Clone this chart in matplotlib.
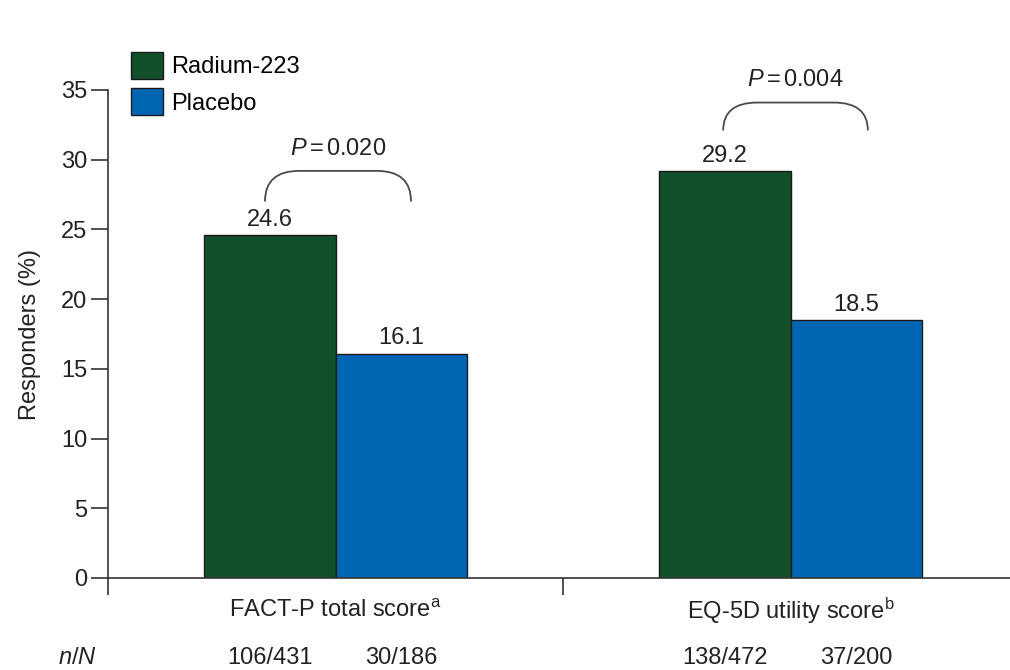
import matplotlib
matplotlib.use("Agg")
import matplotlib.pyplot as plt
from matplotlib.path import Path
from matplotlib.patches import PathPatch
import numpy as np

plt.rcParams['font.family'] = ['Liberation Sans', 'DejaVu Sans']
plt.rcParams['mathtext.fontset'] = 'custom'
plt.rcParams['mathtext.rm'] = 'Liberation Sans'
plt.rcParams['mathtext.it'] = 'Liberation Sans:italic'
plt.rcParams['mathtext.bf'] = 'Liberation Sans:bold'

categories = ["FACT-P total score$^{\\rm a}$", "EQ-5D utility score$^{\\rm b}$"]
series_names = ["Radium-223", "Placebo"]
radium = [24.6, 29.2]
placebo = [16.1, 18.5]
radium_nN = ["106/431", "138/472"]
placebo_nN = ["30/186", "37/200"]
p_values = ["0.020", "0.004"]
yticks = [0, 5, 10, 15, 20, 25, 30, 35]

green = "#11502a"
blue = "#0066b3"
txt = "#222222"
axc = "#333333"
fs = 17

fig = plt.figure(figsize=(10.1, 6.7), dpi=100)
ax = fig.add_axes([108/1010, 1-578/670, 910/1010, 488/670])

x = np.arange(len(categories))
w = 0.288
b1 = ax.bar(x - w/2, radium, w, color=green, edgecolor="#1a1a1a", linewidth=1.0, label=series_names[0], zorder=2)
b2 = ax.bar(x + w/2, placebo, w, color=blue, edgecolor="#1a1a1a", linewidth=1.0, label=series_names[1], zorder=2)

ax.set_xlim(-0.5, 1.5)
ax.set_ylim(0, 35)
ax.set_yticks(yticks)
ax.set_yticklabels([str(t) for t in yticks], fontsize=fs, color=txt)
ax.set_xticks([-0.5, 0.5, 1.5])
ax.set_xticklabels([])
ax.tick_params(axis='both', direction='out', length=12, width=1.2, color=axc, pad=3)
for s in ['top', 'right']:
    ax.spines[s].set_visible(False)
for s in ['left', 'bottom']:
    ax.spines[s].set_color(axc)
    ax.spines[s].set_linewidth(1.2)

ax.set_ylabel("Responders (%)", fontsize=fs, color=txt, labelpad=14)

# value labels
for rects, vals in ((b1, radium), (b2, placebo)):
    for r, v in zip(rects, vals):
        ax.annotate(f"{v}", (r.get_x() + r.get_width()/2, v), xytext=(0, 3),
                    textcoords="offset points", ha="center", va="bottom",
                    fontsize=fs, color=txt)

# category labels and n/N
tr = ax.get_xaxis_transform()
for i, c in enumerate(categories):
    ax.text(x[i], -0.068, c, transform=tr, ha="center", va="center", fontsize=fs, color=txt)
    ax.text(x[i] - w/2, -0.164, radium_nN[i], transform=tr, ha="center", va="center", fontsize=fs, color=txt)
    ax.text(x[i] + w/2, -0.164, placebo_nN[i], transform=tr, ha="center", va="center", fontsize=fs, color=txt)
fig.text(58/1010, 1-658/670, "$\\it{n/N}$", ha="left", va="center", fontsize=fs, color=txt)

# brackets
def bracket(x0, x1, yb, yt, label, yl):
    rx = 0.075
    verts = [(x0, yb), (x0, yt), (x0 + rx, yt),
             (x1 - rx, yt),
             (x1, yt), (x1, yb)]
    codes = [Path.MOVETO, Path.CURVE3, Path.CURVE3, Path.LINETO, Path.CURVE3, Path.CURVE3]
    ax.add_patch(PathPatch(Path(verts, codes), fill=False, edgecolor="#4a4a4a", lw=1.3, clip_on=False))
    ax.text((x0 + x1)/2, yl, f"$\\it{{P}}\\,$=$\\,${label}", ha="center", va="center",
            fontsize=fs, color=txt, clip_on=False)

bracket(x[0] - 0.155, x[0] + 0.166, 27.0, 29.2, p_values[0], 30.8)
bracket(x[1] - 0.148, x[1] + 0.170, 32.1, 34.1, p_values[1], 35.7)

ax.legend(handles=[b1, b2], loc="upper left", bbox_to_anchor=(131/1010, 1-52/670),
          bbox_transform=fig.transFigure, frameon=False, fontsize=fs,
          handlelength=1.35, handleheight=1.35, handletextpad=0.35, labelspacing=0.42,
          borderpad=0, borderaxespad=0)

fig.savefig("out.png", dpi=100)
